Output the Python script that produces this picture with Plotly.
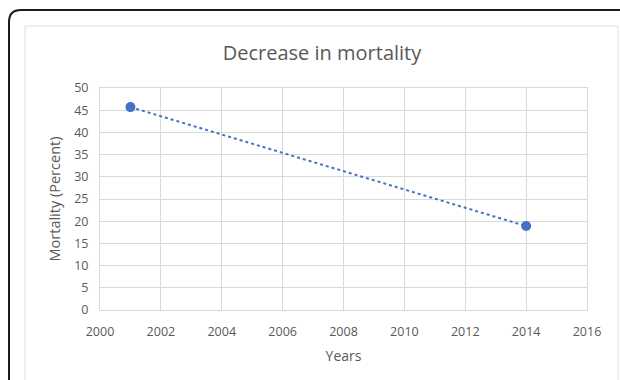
import plotly.graph_objects as go

years = [2001, 2014]
mortality = [45.7, 18.9]
x_ticks = [2000, 2002, 2004, 2006, 2008, 2010, 2012, 2014, 2016]
y_ticks = [0, 5, 10, 15, 20, 25, 30, 35, 40, 45, 50]

W, H = 620, 380
L, R, T, B = 100, 587, 88, 310
pw, ph = R - L, B - T

def px(x):
    return (x - L) / pw

def py(y):
    return (B - y) / ph

fig = go.Figure()
fig.add_trace(go.Scatter(
    x=years, y=mortality, mode="lines+markers",
    line=dict(color="#4472C4", width=2, dash="dot"),
    marker=dict(color="#4472C4", size=10),
    showlegend=False, hoverinfo="skip"))

font_fam = "Open Sans, Liberation Sans, sans-serif"
gray = "#595959"

# outer black rounded border (top-left corner)
r = 12
outer = (f"M {px(9)},{py(400)} L {px(9)},{py(10 + r)} "
         f"Q {px(9)},{py(10)} {px(9 + r)},{py(10)} L {px(640)},{py(10)}")
fig.add_shape(type="path", path=outer, xref="paper", yref="paper",
              line=dict(color="#1a1a1a", width=2))
# inner light-gray chart border
inner = (f"M {px(25)},{py(400)} L {px(25)},{py(26)} L {px(618)},{py(26)} L {px(618)},{py(400)}")
fig.add_shape(type="path", path=inner, xref="paper", yref="paper",
              line=dict(color="#e0e0e0", width=1))

fig.update_layout(
    width=W, height=H,
    margin=dict(l=L, r=W - R, t=T, b=H - B),
    paper_bgcolor="white", plot_bgcolor="white",
    title=dict(text="Decrease in mortality", xref="container", x=322 / W,
               xanchor="center", y=1 - 53 / H, yanchor="middle",
               font=dict(family=font_fam, size=20, color=gray)),
    xaxis=dict(range=[2000, 2016], tickvals=x_ticks, ticktext=[str(v) for v in x_ticks],
               showgrid=True, gridcolor="#d9d9d9", gridwidth=1,
               showline=True, linecolor="#d9d9d9", mirror=True, zeroline=False,
               ticks="", ticklabelstandoff=10,
               tickfont=dict(family=font_fam, size=12.5, color=gray),
               title=dict(text="Years", font=dict(family=font_fam, size=14, color=gray),
                          standoff=12)),
    yaxis=dict(range=[0, 50], tickvals=y_ticks, ticktext=[str(v) for v in y_ticks],
               showgrid=True, gridcolor="#d9d9d9", gridwidth=1,
               showline=True, linecolor="#d9d9d9", mirror=True, zeroline=False,
               ticks="", ticklabelstandoff=8,
               tickfont=dict(family=font_fam, size=12.5, color=gray),
               title=dict(text="Mortality (Percent)",
                          font=dict(family=font_fam, size=14.5, color=gray), standoff=10)),
)

fig.write_html("out.html", config={"displayModeBar": False},
               post_script="document.body.style.margin='0';")
